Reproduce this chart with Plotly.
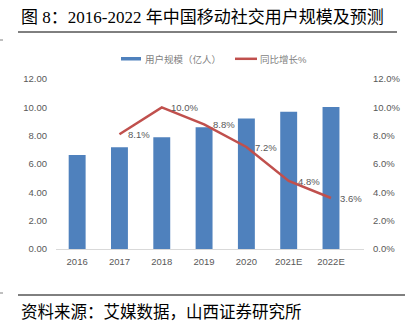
import plotly.graph_objects as go

years = ["2016", "2017", "2018", "2019", "2020", "2021E", "2022E"]
users = [6.63, 7.19, 7.88, 8.59, 9.22, 9.68, 10.02]
growth_years = ["2017", "2018", "2019", "2020", "2021E", "2022E"]
growth = [8.1, 10.0, 8.8, 7.2, 4.8, 3.6]
growth_labels = ["8.1%", "10.0%", "8.8%", "7.2%", "4.8%", "3.6%"]

W, H = 411, 324
L, R, T, B = 56, 364, 79, 249
def px(x):
    return (x - L) / (R - L)
def py(y):
    return (B - y) / (B - T)

AX = "#595959"
FONT = "Liberation Sans, Noto Sans CJK SC, sans-serif"
CJK = "Liberation Serif, Noto Sans CJK SC, serif"

fig = go.Figure()
fig.add_trace(go.Bar(x=years, y=users, name="用户规模（亿人）",
                     marker=dict(color="#4F81BD", line=dict(width=0)),
                     width=0.4, yaxis="y"))
fig.add_trace(go.Scatter(x=growth_years, y=growth, name="同比增长%",
                         mode="lines",
                         line=dict(color="#C0504D", width=2.5),
                         yaxis="y2", cliponaxis=False))

fig.update_layout(
    width=W, height=H,
    margin=dict(l=L, r=W - R, t=T, b=H - B),
    paper_bgcolor="white", plot_bgcolor="white",
    showlegend=False,
    xaxis=dict(type="category", categoryorder="array", categoryarray=years,
               showgrid=False, showline=True, linecolor="#D9D9D9", linewidth=1,
               ticks="", tickfont=dict(size=9.5, color=AX, family=FONT),
               ticklabelstandoff=4, fixedrange=True),
    yaxis=dict(range=[0, 12], dtick=2, tickformat=".2f", showgrid=False,
               zeroline=False, showline=False,
               tickfont=dict(size=9.5, color=AX, family=FONT),
               ticklabelstandoff=8),
    yaxis2=dict(range=[0, 12], dtick=2, overlaying="y", side="right",
                ticksuffix="%", tickformat=".1f", showgrid=False, zeroline=False,
                showline=False, tickfont=dict(size=9.5, color=AX, family=FONT),
                ticklabelstandoff=8),
    font=dict(family=FONT),
)

ann = []
for xv, yv, lab in zip(growth_years, growth, growth_labels):
    ann.append(dict(text=lab, x=years.index(xv), y=yv, xref="x", yref="y2", xanchor="left",
                    yanchor="middle", xshift=7, showarrow=False,
                    font=dict(size=9.5, color=AX, family=FONT)))
ann.append(dict(text="图 8：2016-2022 年中国移动社交用户规模及预测", x=px(19), y=py(18),
                xref="paper", yref="paper", xanchor="left", yanchor="middle",
                showarrow=False, font=dict(size=17, color="#000000", family=CJK)))
ann.append(dict(text="资料来源：艾媒数据，山西证券研究所", x=px(19), y=py(312),
                xref="paper", yref="paper", xanchor="left", yanchor="middle",
                showarrow=False, font=dict(size=16.5, color="#000000", family=CJK)))
ann.append(dict(text="用户规模（亿人）", x=px(143), y=py(59),
                xref="paper", yref="paper", xanchor="left", yanchor="middle",
                showarrow=False, font=dict(size=9.5, color="#7F7F7F", family=FONT)))
ann.append(dict(text="同比增长%", x=px(258), y=py(59),
                xref="paper", yref="paper", xanchor="left", yanchor="middle",
                showarrow=False, font=dict(size=9.5, color="#7F7F7F", family=FONT)))
fig.update_layout(annotations=ann)

shapes = [
    dict(type="line", xref="paper", yref="paper", x0=px(18), x1=px(397), y0=py(32), y1=py(32),
         line=dict(color="#000000", width=1)),
    dict(type="line", xref="paper", yref="paper", x0=px(18), x1=px(405), y0=py(295), y1=py(295),
         line=dict(color="#000000", width=1)),
    dict(type="line", xref="paper", yref="paper", x0=px(0), x1=px(3), y0=py(40), y1=py(40),
         line=dict(color="#808080", width=1)),
    dict(type="line", xref="paper", yref="paper", x0=px(0), x1=px(3), y0=py(293), y1=py(293),
         line=dict(color="#808080", width=1)),
    dict(type="rect", xref="paper", yref="paper", x0=px(121), x1=px(141), y0=py(57), y1=py(60.5),
         fillcolor="#4F81BD", line=dict(width=0)),
    dict(type="line", xref="paper", yref="paper", x0=px(235), x1=px(257), y0=py(58.8), y1=py(58.8),
         line=dict(color="#C0504D", width=2.5)),
]
fig.update_layout(shapes=shapes)

fig.write_html("out.html")
